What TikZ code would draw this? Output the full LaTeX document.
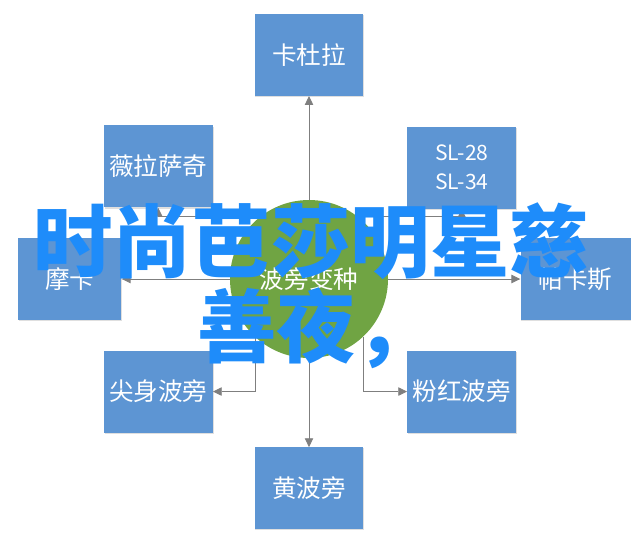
\documentclass[tikz,border=0pt]{standalone}
\usepackage{fontspec}
\setmainfont{Noto Sans CJK SC}
\usetikzlibrary{arrows.meta,positioning,shadows}
\definecolor{varblue}{HTML}{5D95D3}
\definecolor{hubgreen}{HTML}{70A443}
\definecolor{linegray}{HTML}{7F7F7F}
\definecolor{titleblue}{HTML}{1E8CFA}
\tikzset{
  varbox/.style={
    fill=varblue,
    minimum width=2.72cm,
    minimum height=2.05cm,
    align=center,
    text=white,
    font=\fontsize{17.5}{20}\selectfont,
    drop shadow={shadow xshift=0.6pt,shadow yshift=-0.8pt,opacity=0.25}
  },
  hubcircle/.style={
    circle,
    fill=hubgreen,
    minimum size=3.95cm,
    inner sep=0pt,
    text=white,
    font=\fontsize{17.5}{20}\selectfont
  },
  flowarrow/.style={-{Triangle[length=2.2mm,width=2.1mm]},line width=0.6pt,draw=linegray},
  titletext/.style={
    text=titleblue,
    inner sep=0pt,
    font=\fontsize{56.5}{60}\selectfont\bfseries
  }
}
\begin{document}
\begin{tikzpicture}
\useasboundingbox (0,0) rectangle (16,-13.65);
\node[hubcircle] (hub) at (7.725,-6.975) {波旁变种};
\node[varbox,above=2.59cm of hub] (kadula) {卡杜拉};
\node[varbox,below=2.22cm of hub] (huang) {黄波旁};
\node[varbox,left=2.7cm of hub,minimum width=2.58cm] (moka) {摩卡};
\node[varbox,right=3.3cm of hub,minimum width=2.75cm] (pakas) {帕卡斯};
\node[varbox,above left=0.38cm and 1.0cm of hub] (vila) {薇拉萨奇};
\node[varbox,above right=0.35cm and 1.05cm of hub,font=\fontsize{15}{20.5}\selectfont] (slbox) {SL-28\\SL-34};
\node[varbox,below left=0.38cm and 1.0cm of hub] (jianshen) {尖身波旁};
\node[varbox,below right=0.38cm and 1.05cm of hub] (fenhong) {粉红波旁};
% connectors
\draw[flowarrow] (hub) -- (kadula);
\draw[flowarrow] (hub) -- (huang);
\draw[flowarrow] (hub) -- (moka);
\draw[flowarrow] (hub) -- (pakas);
\draw[flowarrow] (hub.128) -| (vila);
\draw[flowarrow] (hub.52) -| (slbox);
\draw[flowarrow] (hub.227) |- (jianshen);
\draw[flowarrow] (hub.313) |- (fenhong);
% title over the diagram
\node[titletext,anchor=base west] (title1) at (0.82,-6.78) {时尚芭莎明星慈};
\node[titletext,anchor=base west] (title2) at (4.92,-8.9) {善夜，};
\end{tikzpicture}
\end{document}
